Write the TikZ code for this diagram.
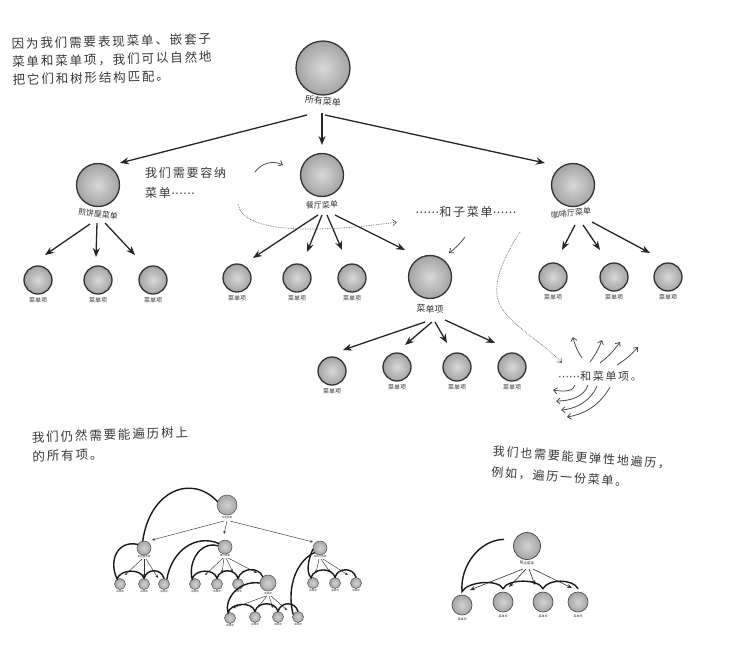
\documentclass[tikz,border=0pt]{standalone}
\usepackage{fontspec}
\newfontfamily\cjk{Noto Sans CJK SC}
\newfontfamily\hw[LetterSpace=15]{Noto Sans CJK SC}
\newfontfamily\dv{DejaVu Sans}
\usetikzlibrary{arrows.meta,calc}
\begin{document}
\begin{tikzpicture}[x=1pt,y=-1pt,
  ball/.style={circle, draw=black!80, line width=1.3pt, inner color=gray!30, outer color=gray!72, inner sep=0pt},
  bigball/.style={ball, minimum size=54pt},
  midball/.style={ball, minimum size=43pt},
  leafball/.style={ball, minimum size=28pt},
  lbl/.style={font=\cjk\fontsize{8}{8}\selectfont, text=black!80, inner sep=0pt},
  smalllbl/.style={font=\cjk\fontsize{6}{6}\selectfont, text=black!80, inner sep=0pt},
  note/.style={font=\hw\fontsize{12}{19}\selectfont, text=black!78, align=left, inner sep=0pt},
  arr/.style={line width=1.3pt, draw=black!85, -{Stealth[length=9pt,width=7pt]}},
  hand/.style={line width=0.8pt, draw=black!70, -{Straight Barb[length=3.5pt,width=6pt]}},
  dotline/.style={densely dotted, line width=0.7pt, draw=black!60, -{Straight Barb[length=4pt,width=6pt]}},
  tball/.style={circle, draw=black!70, line width=0.5pt, inner color=gray!35, outer color=gray!70, inner sep=0pt},
  tarr/.style={line width=0.45pt, draw=black!80, -{Stealth[length=3pt,width=2.5pt]}},
  uarr/.style={line width=0.6pt, draw=black!80, -{Stealth[length=5pt,width=4pt]}},
  trav/.style={line width=1.4pt, draw=black!90, line cap=round},
  tinylbl/.style={font=\cjk\fontsize{2.5}{2.5}\selectfont, text=black!80, inner sep=0pt},
]
\useasboundingbox (0,0) rectangle (743,665);
\fill[white] (0,0) rectangle (743,665);

% ---------- main tree ----------
\node[bigball] (root) at (323,68) {};
\node[lbl, font=\cjk\fontsize{9}{9}\selectfont, rotate=-5] (rootl) at (323,101) {所有菜单};

\node[midball] (L) at (98,185) {};
\node[lbl, rotate=-8] (Ll) at (98,214) {煎饼屋菜单};
\node[midball] (M) at (322,175) {};
\node[lbl, rotate=3] (Ml) at (322,205) {餐厅菜单};
\node[midball] (R) at (573,185) {};
\node[lbl, rotate=6] (Rl) at (571,213) {咖啡厅菜单};

\node[leafball] (LA) at (38,280) {};
\node[smalllbl] (LAl) at (38,300) {菜单项};
\node[leafball] (LB) at (98,280) {};
\node[smalllbl] (LBl) at (98,300) {菜单项};
\node[leafball] (LC) at (153,280) {};
\node[smalllbl] (LCl) at (153,300) {菜单项};

\node[leafball] (MA) at (237,278) {};
\node[smalllbl] (MAl) at (237,298) {菜单项};
\node[leafball] (MB) at (297,278) {};
\node[smalllbl] (MBl) at (297,298) {菜单项};
\node[leafball] (MC) at (352,278) {};
\node[smalllbl] (MCl) at (352,298) {菜单项};

\node[midball] (S) at (430,277) {};
\node[lbl, font=\cjk\fontsize{9}{9}\selectfont, rotate=-3] (Sl) at (430,309) {菜单项};

\node[leafball] (SA) at (332,371) {};
\node[smalllbl] (SAl) at (332,391) {菜单项};
\node[leafball] (SB) at (397,367) {};
\node[smalllbl] (SBl) at (397,387) {菜单项};
\node[leafball] (SC) at (457,367) {};
\node[smalllbl] (SCl) at (457,387) {菜单项};
\node[leafball] (SD) at (512,367) {};
\node[smalllbl] (SDl) at (512,387) {菜单项};

\node[leafball] (RA) at (553,277) {};
\node[smalllbl] (RAl) at (553,297) {菜单项};
\node[leafball] (RB) at (614,277) {};
\node[smalllbl] (RBl) at (614,297) {菜单项};
\node[leafball] (RC) at (668,277) {};
\node[smalllbl] (RCl) at (668,297) {菜单项};

\draw[arr] ($(rootl)+(-16,14)$) -- ($(L)+(22,-22)$);
\draw[arr] ($(rootl)+(-1,12)$) -- ($(M)+(0,-30)$);
\draw[arr] ($(rootl)+(2,14)$) -- ($(R)+(-28,-22)$);

\draw[arr] ($(Ll)+(-8,10)$) -- ($(LA)+(7,-25)$);
\draw[arr] ($(Ll)+(-1,9)$) -- ($(LB)+(-2,-23)$);
\draw[arr] ($(Ll)+(7,9)$) -- ($(LC)+(-18,-25)$);

\draw[arr] ($(Ml)+(-4,10)$) -- ($(MA)+(16,-20)$);
\draw[arr] ($(Ml)+(0,10)$) -- ($(MB)+(10,-26)$);
\draw[arr] ($(Ml)+(5,10)$) -- ($(MC)+(-10,-28)$);
\draw[arr] ($(Ml)+(13,10)$) -- ($(S)+(-25,-27)$);

\draw[arr] ($(Sl)+(-5,13)$) -- ($(SA)+(11,-21)$);
\draw[arr] ($(Sl)+(2,13)$) -- ($(SB)+(8,-22)$);
\draw[arr] ($(Sl)+(5,13)$) -- ($(SC)+(-10,-24)$);
\draw[arr] ($(Sl)+(15,11)$) -- ($(SD)+(-17,-24)$);

\draw[arr] ($(Rl)+(4,12)$) -- ($(RA)+(9,-27)$);
\draw[arr] ($(Rl)+(12,12)$) -- ($(RB)+(-14,-27)$);
\draw[arr] ($(Rl)+(21,9)$) -- ($(RC)+(-18,-24)$);

% ---------- notes ----------
\node[note, font=\hw\fontsize{12.5}{18}\selectfont, anchor=west, rotate=1.5] (n1) at (12,62)
  {因为我们需要表现菜单、嵌套子\\菜单和菜单项，我们可以自然地\\把它们和树形结构匹配。};
\node[note, font=\hw\fontsize{12}{20}\selectfont, anchor=west] (n2) at (145,183)
  {我们需要容纳\\菜单{\dv ⋯⋯}};
\node[note] (n3) at (466,212) {{\dv ⋯⋯}和子菜单{\dv ⋯⋯}};
\node[note, font=\hw\fontsize{11}{11}\selectfont, anchor=west] (n4) at (558,376) {{\dv ⋯⋯}和菜单项。};
\node[note, font=\hw\fontsize{12.5}{19}\selectfont, anchor=west, rotate=2] (n5) at (32,447)
  {我们仍然需要能遍历树上\\的所有项。};
\node[note, font=\hw\fontsize{12}{21}\selectfont, anchor=west, rotate=-4] (n6) at (492,462)
  {我们也需要能更弹性地遍历，\\例如，遍历一份菜单。};

% hand-drawn arrows
\coordinate (h1a) at (255,172); \coordinate (h1b) at (283,165);
\draw[hand] (h1a) to[bend left=40] (h1b);
\coordinate (h2a) at (465,237); \coordinate (h2b) at (449,253);
\draw[hand] (h2a) to[bend left=8] (h2b);

\coordinate (d1a) at (238,204); \coordinate (d1b) at (397,222);
\draw[dotline] (d1a) .. controls (242,234) and (320,233) .. (d1b);
\coordinate (d2a) at (520,232); \coordinate (d2m) at (500,305); \coordinate (d2b) at (562,363);
\draw[dotline] (d2a) .. controls (505,255) and (490,285) .. (d2m) .. controls (510,325) and (540,340) .. (d2b);

\coordinate (f1a) at (582,358); \coordinate (f1b) at (573,337);
\coordinate (f2a) at (590,362); \coordinate (f2b) at (602,340);
\coordinate (f3a) at (600,363); \coordinate (f3b) at (620,342);
\coordinate (f4a) at (617,365); \coordinate (f4b) at (638,347);
\draw[hand] (f1a) to[bend left=10] (f1b);
\draw[hand] (f2a) to[bend right=8] (f2b);
\draw[hand] (f3a) to[bend right=8] (f3b);
\draw[hand] (f4a) to[bend right=8] (f4b);
\coordinate (g1a) at (575,385); \coordinate (g1b) at (553,390);
\coordinate (g2a) at (588,385); \coordinate (g2b) at (556,401);
\coordinate (g3a) at (597,386); \coordinate (g3b) at (561,410);
\coordinate (g4a) at (610,387); \coordinate (g4b) at (567,417);
\draw[hand] (g1a) .. controls (574,391) and (565,392) .. (g1b);
\draw[hand] (g2a) .. controls (584,397) and (570,401) .. (g2b);
\draw[hand] (g3a) .. controls (590,402) and (575,409) .. (g3b);
\draw[hand] (g4a) .. controls (600,405) and (585,414) .. (g4b);

% ---------- small tree (full traversal) ----------
\node[tball, minimum size=20pt] (Tr) at (227,505) {};
\node[tinylbl] (Trl) at (227,518) {所有菜单};
\node[tball, minimum size=14pt] (TL) at (144,548) {};
\node[tinylbl] (TLl) at (144,557) {煎饼屋菜单};
\node[tball, minimum size=14pt] (TM) at (225,547) {};
\node[tinylbl] (TMl) at (225,556) {餐厅菜单};
\node[tball, minimum size=14pt] (TR) at (320,548) {};
\node[tinylbl] (TRl) at (320,557) {咖啡厅菜单};

\node[tball, minimum size=11pt] (TLA) at (120,584) {};
\node[tinylbl] (TLAl) at (120,592) {菜单项};
\node[tball, minimum size=11pt] (TLB) at (144,584) {};
\node[tinylbl] (TLBl) at (144,592) {菜单项};
\node[tball, minimum size=11pt] (TLC) at (164,584) {};
\node[tinylbl] (TLCl) at (164,592) {菜单项};
\node[tball, minimum size=11pt] (TMA) at (195,584) {};
\node[tinylbl] (TMAl) at (195,592) {菜单项};
\node[tball, minimum size=11pt] (TMB) at (217,584) {};
\node[tinylbl] (TMBl) at (217,592) {菜单项};
\node[tball, minimum size=11pt] (TMC) at (238,584) {};
\node[tinylbl] (TMCl) at (238,592) {菜单项};
\node[tball, minimum size=16pt] (TS) at (268,583) {};
\node[tinylbl] (TSl) at (268,594) {菜单项};
\node[tball, minimum size=11pt] (TSA) at (230,618) {};
\node[tinylbl] (TSAl) at (230,626) {菜单项};
\node[tball, minimum size=11pt] (TSB) at (255,617) {};
\node[tinylbl] (TSBl) at (255,625) {菜单项};
\node[tball, minimum size=11pt] (TSC) at (278,617) {};
\node[tinylbl] (TSCl) at (278,625) {菜单项};
\node[tball, minimum size=11pt] (TSD) at (298,617) {};
\node[tinylbl] (TSDl) at (298,625) {菜单项};
\node[tball, minimum size=11pt] (TRA) at (313,583) {};
\node[tinylbl] (TRAl) at (313,591) {菜单项};
\node[tball, minimum size=11pt] (TRB) at (335,583) {};
\node[tinylbl] (TRBl) at (335,591) {菜单项};
\node[tball, minimum size=11pt] (TRC) at (356,583) {};
\node[tinylbl] (TRCl) at (356,591) {菜单项};

\draw[tarr] ($(Trl)+(-3,3)$) -- ($(TL)+(8,-8)$);
\draw[tarr] ($(Trl)+(0,3)$) -- ($(TM)+(-1,-13)$);
\draw[tarr] ($(Trl)+(3,3)$) -- ($(TR)+(-7,-6)$);
\draw[tarr] ($(TLl)+(-2,2)$) -- ($(TLA)+(5,-9)$);
\draw[tarr] ($(TLl)+(0,2)$) -- ($(TLB)+(0,-7)$);
\draw[tarr] ($(TLl)+(2,2)$) -- ($(TLC)+(-6,-6)$);
\draw[tarr] ($(TMl)+(-2,2)$) -- ($(TMA)+(10,-9)$);
\draw[tarr] ($(TMl)+(-1,2)$) -- ($(TMB)+(5,-11)$);
\draw[tarr] ($(TMl)+(1,2)$) -- ($(TMC)+(-5,-12)$);
\draw[tarr] ($(TMl)+(3,2)$) -- ($(TS)+(-11,-10)$);
\draw[tarr] ($(TSl)+(-2,2)$) -- ($(TSA)+(3,-10)$);
\draw[tarr] ($(TSl)+(-1,2)$) -- ($(TSB)+(3,-10)$);
\draw[tarr] ($(TSl)+(1,2)$) -- ($(TSC)+(-5,-9)$);
\draw[tarr] ($(TSl)+(3,2)$) -- ($(TSD)+(-11,-7)$);
\draw[tarr] ($(TRl)+(-1,2)$) -- ($(TRA)+(3,-10)$);
\draw[tarr] ($(TRl)+(1,2)$) -- ($(TRB)+(-5,-11)$);
\draw[tarr] ($(TRl)+(3,2)$) -- ($(TRC)+(-8,-8)$);

\draw[trav] (Tr.160) .. controls (192,474) and (150,490) .. (TL.100);
\draw[trav] (TL.150) .. controls (118,540) and (108,560) .. (TLA.120)
  .. controls +(3,-10) and +(-3,-10) .. (TLB.north)
  .. controls +(3,-10) and +(-3,-10) .. (TLC.north);
\draw[trav] (TLC.60) .. controls (172,550) and (196,534) .. (TM.150);
\draw[trav] (TM.170) .. controls (200,541) and (188,562) .. (TMA.120)
  .. controls +(3,-10) and +(-3,-10) .. (TMB.north)
  .. controls +(3,-10) and +(-3,-10) .. (TMC.north)
  .. controls +(4,-11) and +(-4,-10) .. (TS.130);
\draw[trav] (TS.180) .. controls (238,580) and (224,600) .. (TSA.110)
  .. controls +(3,-10) and +(-3,-10) .. (TSB.north)
  .. controls +(3,-10) and +(-3,-10) .. (TSC.north)
  .. controls +(3,-10) and +(-3,-10) .. (TSD.north);
\draw[trav] (TSD.150) .. controls (286,585) and (298,560) .. (TR.220);
\draw[trav] (TR.190) .. controls (308,560) and (306,572) .. (TRA.110)
  .. controls +(3,-10) and +(-3,-10) .. (TRB.north)
  .. controls +(3,-10) and +(-3,-10) .. (TRC.north);

% ---------- small tree (one menu) ----------
\node[tball, minimum size=27pt, line width=0.8pt] (U) at (527,546) {};
\node[tinylbl, font=\cjk\fontsize{3.5}{3.5}\selectfont, rotate=-5] (Ul) at (527,563) {甜点菜单};
\node[tball, minimum size=20pt, line width=0.7pt] (UA) at (462,605) {};
\node[tinylbl, font=\cjk\fontsize{3}{3}\selectfont] (UAl) at (462,619) {菜单项};
\node[tball, minimum size=20pt, line width=0.7pt] (UB) at (503,602) {};
\node[tinylbl, font=\cjk\fontsize{3}{3}\selectfont] (UBl) at (503,616) {菜单项};
\node[tball, minimum size=20pt, line width=0.7pt] (UC) at (543,602) {};
\node[tinylbl, font=\cjk\fontsize{3}{3}\selectfont] (UCl) at (543,616) {菜单项};
\node[tball, minimum size=20pt, line width=0.7pt] (UD) at (578,602) {};
\node[tinylbl, font=\cjk\fontsize{3}{3}\selectfont] (UDl) at (578,616) {菜单项};

\draw[uarr] ($(Ul)+(-4,6)$) -- ($(UA)+(8,-15)$);
\draw[uarr] ($(Ul)+(-1,6)$) -- ($(UB)+(6,-15)$);
\draw[uarr] ($(Ul)+(2,6)$) -- ($(UC)+(-8,-17)$);
\draw[uarr] ($(Ul)+(6,6)$) -- ($(UD)+(-6,-14)$);

\draw[trav] ($(U.165)+(-10,-3)$) .. controls (480,540) and (460,565) .. ($(UA.north)+(0,-3)$)
  .. controls +(5,-10) and +(-5,-10) .. ($(UB.north)+(0,-3)$)
  .. controls +(5,-10) and +(-5,-10) .. ($(UC.north)+(0,-3)$)
  .. controls +(5,-10) and +(-5,-10) .. ($(UD.north)+(0,-3)$);
\end{tikzpicture}
\end{document}
